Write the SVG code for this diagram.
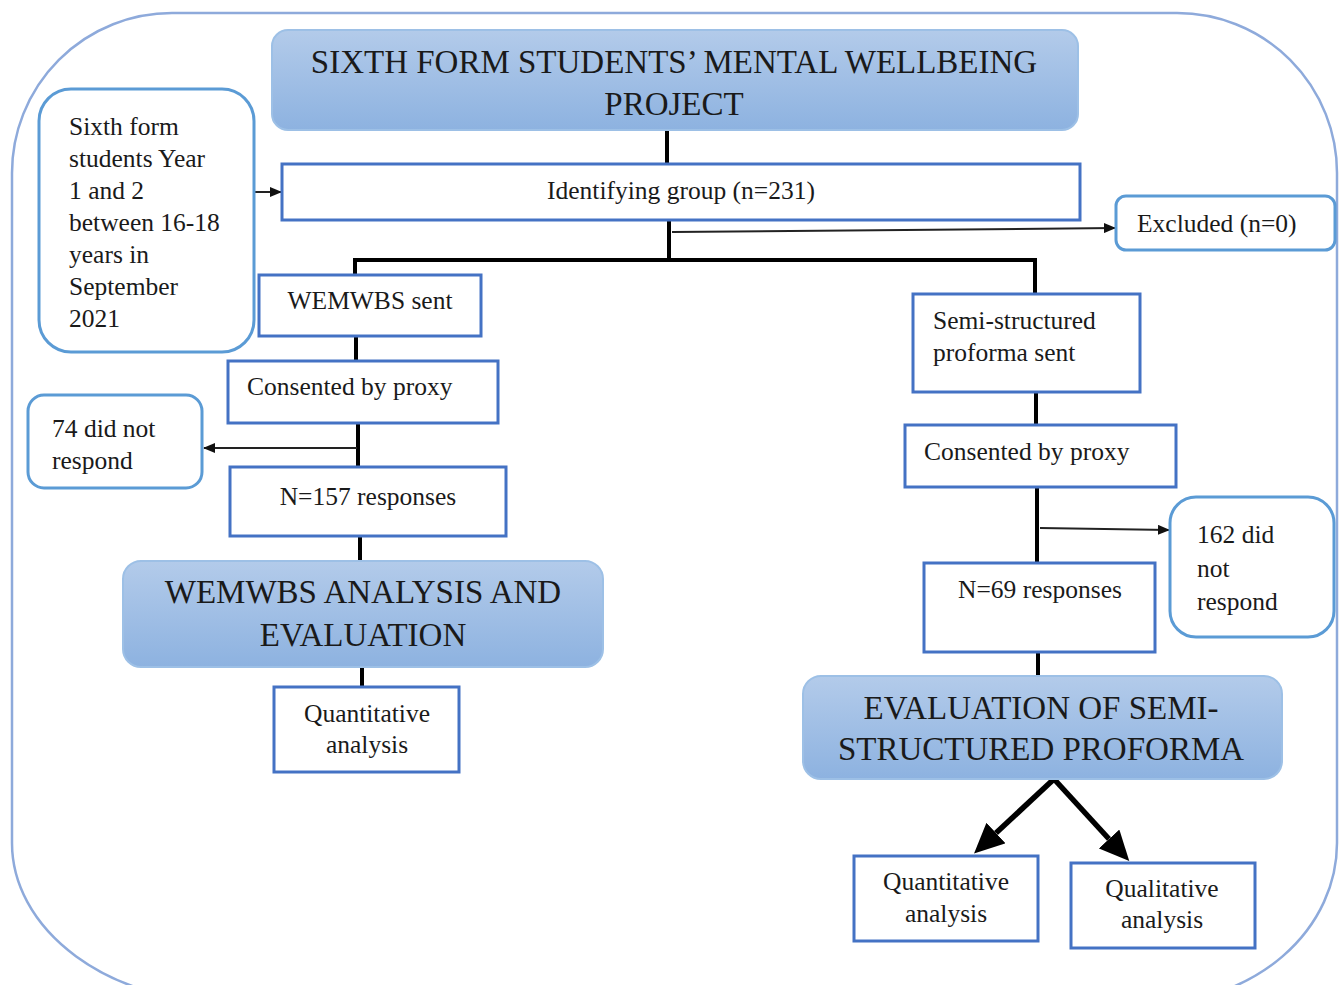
<svg xmlns="http://www.w3.org/2000/svg" width="1342" height="985" viewBox="0 0 1342 985">
<defs>
<linearGradient id="hdr" x1="0" y1="0" x2="0" y2="1">
<stop offset="0" stop-color="#b3cbea"/>
<stop offset="1" stop-color="#8db2e0"/>
</linearGradient>
<marker id="sm" viewBox="0 0 12 10" refX="11" refY="5" markerWidth="12" markerHeight="10" markerUnits="userSpaceOnUse" orient="auto">
<path d="M0,0 L12,5 L0,10 z" fill="#111"/>
</marker>
<marker id="big" viewBox="0 0 30 28" refX="0" refY="14" markerWidth="30" markerHeight="28" markerUnits="userSpaceOnUse" orient="auto">
<path d="M0,0 L30,14 L0,28 z" fill="#000"/>
</marker>
</defs>
<style>
text{font-family:"Liberation Serif","Times New Roman",serif;fill:#1a1a1a}
.s{font-size:25.5px}
.h{font-size:33px}
.c{text-anchor:middle}
.box{fill:#fff;stroke:#4472c4;stroke-width:3}
.rnd{fill:#fff;stroke:#5b9bd5;stroke-width:3}
.hdr{fill:url(#hdr);stroke:#9dc0e6;stroke-width:2}
.ln{stroke:#000;stroke-width:4;fill:none}
.ar{stroke:#222;stroke-width:2;fill:none;marker-end:url(#sm)}
.bar{stroke:#000;stroke-width:5.5;fill:none;marker-end:url(#big)}
</style>
<rect width="1342" height="985" fill="#fff"/>
<path id="frame" d="M172 13 H1177 A160 160 0 0 1 1337 173 V843 A185 160 0 0 1 1152 1003 H230 A218 160 0 0 1 12 843 V173 A160 160 0 0 1 172 13 Z" fill="none" stroke="#8eaadb" stroke-width="2.5"/>

<g id="connectors">
<line class="ln" x1="667" y1="130" x2="667" y2="163"/>
<line class="ln" x1="669" y1="220" x2="669" y2="260"/>
<polyline class="ln" points="355,275 355,260 1035,260 1035,294"/>
<line class="ln" x1="356" y1="336" x2="356" y2="360"/>
<line class="ln" x1="358" y1="423" x2="358" y2="466"/>
<line class="ln" x1="360" y1="536" x2="360" y2="561"/>
<line class="ln" x1="362" y1="667" x2="362" y2="686"/>
<line class="ln" x1="1036" y1="392" x2="1036" y2="424"/>
<line class="ln" x1="1037" y1="487" x2="1037" y2="562"/>
<line class="ln" x1="1038" y1="652" x2="1038" y2="675"/>
<line class="ar" x1="245" y1="192" x2="281" y2="192"/>
<line class="ar" x1="672" y1="232" x2="1115" y2="228"/>
<line class="ar" x1="357" y1="448" x2="204" y2="448"/>
<line class="ar" x1="1040" y1="528" x2="1169" y2="530"/>
<line class="bar" x1="1054" y1="779" x2="996" y2="833"/>
<line class="bar" x1="1054" y1="779" x2="1109" y2="839"/>
</g>

<g id="title">
<rect class="hdr" x="272" y="30" width="806" height="100" rx="16"/>
<text class="h c" x="674" y="73">SIXTH FORM STUDENTS’ MENTAL WELLBEING</text>
<text class="h c" x="674" y="115">PROJECT</text>
</g>

<g id="population">
<rect class="rnd" x="39" y="89" width="215" height="263" rx="32"/>
<text class="s" x="69" y="135">Sixth form</text>
<text class="s" x="69" y="167">students Year</text>
<text class="s" x="69" y="199">1 and 2</text>
<text class="s" x="69" y="231">between 16-18</text>
<text class="s" x="69" y="263">years in</text>
<text class="s" x="69" y="295">September</text>
<text class="s" x="69" y="327">2021</text>
</g>

<g id="identifying">
<rect class="box" x="282" y="164" width="798" height="56"/>
<text class="s c" x="681" y="199">Identifying group (n=231)</text>
</g>

<g id="excluded">
<rect class="rnd" x="1116" y="196" width="219" height="54" rx="10"/>
<text class="s" x="1137" y="232">Excluded (n=0)</text>
</g>

<g id="wemwbs-sent">
<rect class="box" x="259" y="275" width="222" height="61"/>
<text class="s c" x="370" y="309">WEMWBS sent</text>
</g>

<g id="consent-left">
<rect class="box" x="228" y="361" width="270" height="62"/>
<text class="s" x="247" y="395">Consented by proxy</text>
</g>

<g id="no-response-left">
<rect class="rnd" x="28" y="395" width="174" height="93" rx="16"/>
<text class="s" x="52" y="437">74 did not</text>
<text class="s" x="52" y="469">respond</text>
</g>

<g id="responses-157">
<rect class="box" x="230" y="467" width="276" height="69"/>
<text class="s c" x="368" y="505">N=157 responses</text>
</g>

<g id="wemwbs-analysis">
<rect class="hdr" x="123" y="561" width="480" height="106" rx="18"/>
<text class="h c" x="363" y="603">WEMWBS ANALYSIS AND</text>
<text class="h c" x="363" y="646">EVALUATION</text>
</g>

<g id="quant-left">
<rect class="box" x="274" y="687" width="185" height="85"/>
<text class="s c" x="367" y="722">Quantitative</text>
<text class="s c" x="367" y="753">analysis</text>
</g>

<g id="proforma-sent">
<rect class="box" x="913" y="294" width="227" height="98"/>
<text class="s" x="933" y="329">Semi-structured</text>
<text class="s" x="933" y="361">proforma sent</text>
</g>

<g id="consent-right">
<rect class="box" x="905" y="425" width="271" height="62"/>
<text class="s" x="924" y="460">Consented by proxy</text>
</g>

<g id="no-response-right">
<rect class="rnd" x="1170" y="497" width="164" height="140" rx="26"/>
<text class="s" x="1197" y="543">162 did</text>
<text class="s" x="1197" y="577">not</text>
<text class="s" x="1197" y="610">respond</text>
</g>

<g id="responses-69">
<rect class="box" x="924" y="563" width="231" height="89"/>
<text class="s c" x="1040" y="598">N=69 responses</text>
</g>

<g id="proforma-eval">
<rect class="hdr" x="803" y="676" width="479" height="103" rx="18"/>
<text class="h c" x="1041" y="719">EVALUATION OF SEMI-</text>
<text class="h c" x="1041" y="760">STRUCTURED PROFORMA</text>
</g>

<g id="quant-right">
<rect class="box" x="854" y="856" width="184" height="85"/>
<text class="s c" x="946" y="890">Quantitative</text>
<text class="s c" x="946" y="922">analysis</text>
</g>

<g id="qual-right">
<rect class="box" x="1071" y="863" width="184" height="85"/>
<text class="s c" x="1162" y="897">Qualitative</text>
<text class="s c" x="1162" y="928">analysis</text>
</g>
</svg>
